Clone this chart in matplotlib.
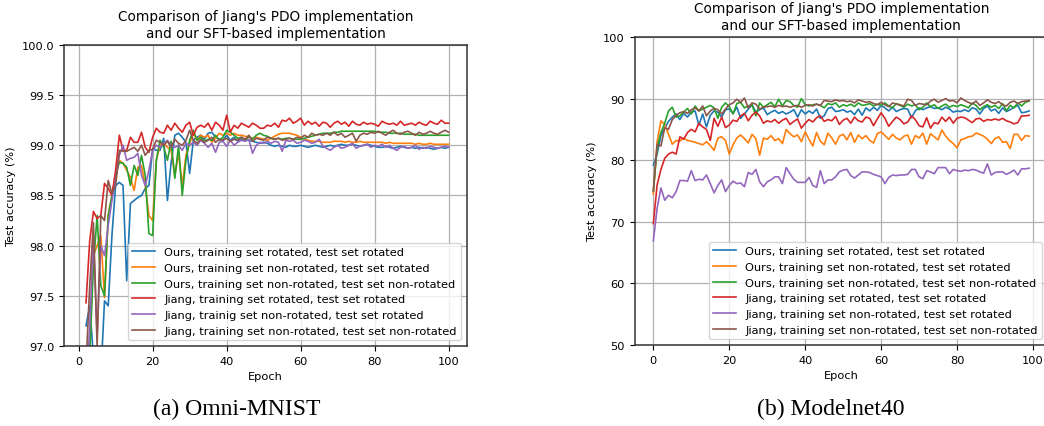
import matplotlib

matplotlib.use("Agg")
import matplotlib.pyplot as plt
import numpy as np

# Omni-MNIST, epochs 2..100
mnist_epochs = np.arange(2, 101)

mnist_ours_rot_rot = [
    97.20, 97.40, 96.90, 96.80, 96.70, 97.45, 97.40, 98.10, 98.60, 98.63,
    98.60, 97.65, 98.42, 98.45, 98.48, 98.50, 98.57, 98.60, 98.97, 98.95,
    98.95, 99.07, 98.45, 98.83, 99.10, 99.12, 99.08, 99.03, 98.72, 99.05,
    99.08, 99.10, 99.06, 99.12, 99.13, 99.08, 99.06, 99.05, 99.10, 99.05,
    99.08, 99.04, 99.06, 99.05, 99.05, 99.04, 99.03, 99.02, 99.03, 99.02,
    99.00, 98.99, 99.00, 98.99, 98.98, 99.00, 98.99, 98.99, 99.00, 98.99,
    98.98, 98.99, 99.00, 98.99, 98.98, 98.99, 99.00, 98.99, 99.00, 99.01,
    99.00, 99.00, 99.01, 99.00, 98.99, 99.00, 99.01, 99.00, 98.99, 98.98,
    98.98, 98.99, 98.98, 98.97, 98.98, 98.99, 98.98, 98.97, 98.98, 98.97,
    98.98, 98.97, 98.98, 98.97, 98.96, 98.97, 98.98, 98.97, 98.98,
]
mnist_ours_nonrot_rot = [
    96.50, 97.00, 97.90, 98.00, 98.10, 97.48, 98.30, 98.50, 98.70, 98.85,
    98.82, 98.75, 98.68, 98.55, 98.78, 98.80, 98.60, 98.30, 98.25, 98.85,
    99.00, 99.02, 98.98, 98.95, 98.70, 98.92, 98.60, 98.90, 99.02, 99.12,
    99.05, 99.10, 99.08, 99.10, 99.03, 99.07, 99.12, 99.10, 99.12, 99.10,
    99.12, 99.10, 99.10, 99.09, 99.08, 99.07, 99.08, 99.07, 99.06, 99.05,
    99.07, 99.09, 99.11, 99.12, 99.12, 99.12, 99.11, 99.10, 99.08, 99.06,
    99.05, 99.04, 99.04, 99.04, 99.03, 99.03, 99.03, 99.04, 99.04, 99.04,
    99.03, 99.04, 99.03, 99.03, 99.04, 99.03, 99.03, 99.03, 99.03, 99.03,
    99.03, 99.02, 99.03, 99.02, 99.02, 99.02, 99.02, 99.02, 99.02, 99.01,
    99.02, 99.01, 99.01, 99.02, 99.01, 99.01, 99.01, 99.01, 99.01,
]
mnist_ours_nonrot_nonrot = [
    96.50, 96.90, 97.80, 98.30, 97.60, 97.50, 98.30, 98.50, 98.70, 98.83,
    98.82, 98.78, 98.60, 98.80, 98.70, 98.90, 98.70, 98.12, 98.10, 98.85,
    99.05, 98.98, 98.85, 99.04, 98.67, 99.00, 98.50, 98.85, 99.05, 99.15,
    99.05, 99.08, 99.04, 99.06, 99.05, 99.10, 99.05, 99.08, 99.15, 99.13,
    99.10, 99.07, 99.08, 99.05, 99.09, 99.06, 99.10, 99.12, 99.10, 99.09,
    99.07, 99.06, 99.07, 99.06, 99.07, 99.07, 99.06, 99.06, 99.06, 99.07,
    99.08, 99.09, 99.10, 99.11, 99.12, 99.12, 99.12, 99.13, 99.13, 99.14,
    99.14, 99.14, 99.14, 99.14, 99.14, 99.14, 99.14, 99.14, 99.14, 99.13,
    99.13, 99.13, 99.12, 99.12, 99.12, 99.12, 99.11, 99.11, 99.11, 99.11,
    99.10, 99.10, 99.10, 99.10, 99.10, 99.10, 99.10, 99.10, 99.10,
]
mnist_jiang_rot_rot = [
    97.43, 98.05, 98.34, 98.27, 98.30, 98.62, 98.57, 98.50, 98.75, 99.10,
    98.95, 98.95, 99.08, 99.03, 99.03, 99.13, 98.98, 98.93, 99.08, 99.17,
    99.13, 99.12, 99.20, 99.15, 99.22, 99.17, 99.13, 99.20, 99.23, 99.10,
    99.18, 99.20, 99.18, 99.22, 99.15, 99.23, 99.20, 99.15, 99.30, 99.13,
    99.20, 99.17, 99.22, 99.20, 99.18, 99.22, 99.20, 99.17, 99.17, 99.20,
    99.19, 99.22, 99.18, 99.25, 99.24, 99.27, 99.22, 99.24, 99.27, 99.20,
    99.24, 99.21, 99.23, 99.19, 99.23, 99.22, 99.18, 99.22, 99.24, 99.21,
    99.23, 99.19, 99.24, 99.21, 99.20, 99.23, 99.21, 99.22, 99.21, 99.19,
    99.24, 99.22, 99.21, 99.22, 99.20, 99.24, 99.20, 99.21, 99.22, 99.20,
    99.23, 99.21, 99.20, 99.24, 99.22, 99.21, 99.25, 99.22, 99.22,
]
mnist_jiang_nonrot_rot = [
    96.50, 97.20, 98.10, 97.10, 98.00, 97.90, 98.20, 98.45, 98.65, 98.90,
    99.00, 98.85, 98.87, 98.88, 98.92, 98.70, 98.60, 98.75, 98.95, 99.00,
    98.98, 99.02, 99.05, 99.00, 98.98, 99.00, 98.95, 99.02, 99.00, 99.03,
    99.00, 99.05, 99.02, 98.98, 99.02, 98.93, 99.03, 99.04, 98.99, 99.05,
    99.00, 99.03, 99.05, 99.04, 99.06, 98.92, 99.00, 99.03, 99.02, 99.04,
    99.02, 99.04, 99.03, 98.94, 99.05, 99.04, 99.05, 99.02, 99.03, 99.05,
    99.04, 99.02, 99.03, 99.06, 98.99, 98.97, 98.95, 98.98, 99.00, 98.97,
    98.98, 99.00, 99.02, 98.97, 98.99, 99.00, 99.01, 98.98, 99.00, 98.99,
    99.01, 98.98, 99.00, 98.97, 98.95, 98.98, 98.99, 98.97, 98.98, 99.00,
    98.96, 98.98, 98.97, 98.99, 98.98, 98.97, 98.98, 98.99, 98.98,
]
mnist_jiang_nonrot_nonrot = [
    96.80, 97.60, 98.23, 97.00, 98.30, 98.25, 98.65, 98.52, 98.60, 98.95,
    98.94, 98.94, 98.96, 98.98, 98.94, 99.00, 98.90, 98.95, 98.96, 99.05,
    99.03, 99.00, 99.04, 98.98, 99.06, 99.02, 99.00, 99.05, 99.15, 99.05,
    99.02, 99.06, 99.03, 99.05, 99.08, 99.03, 99.06, 99.05, 99.07, 99.04,
    99.06, 99.05, 99.08, 99.06, 99.10, 99.04, 99.07, 99.06, 99.05, 99.08,
    99.07, 99.06, 99.07, 99.05, 99.06, 99.07, 99.06, 99.08, 99.07, 99.10,
    99.08, 99.12, 99.10, 99.11, 99.10, 99.12, 99.10, 99.13, 99.10, 99.12,
    99.08, 99.10, 99.12, 99.04, 99.10, 99.12, 99.11, 99.13, 99.12, 99.14,
    99.12, 99.10, 99.13, 99.15, 99.12, 99.11, 99.13, 99.14, 99.12, 99.10,
    99.13, 99.11, 99.12, 99.14, 99.12, 99.11, 99.13, 99.15, 99.13,
]

# Modelnet40, epochs 0..99
mn40_epochs = np.arange(0, 100)

mn40_ours_rot_rot = [
    79.2, 81.0, 84.0, 85.2, 86.3, 87.0, 87.5, 86.6, 87.6, 87.0,
    87.8, 88.0, 85.7, 87.5, 85.4, 87.3, 88.0, 87.8, 87.0, 88.2,
    88.3, 87.6, 88.6, 86.8, 87.5, 88.3, 89.0, 87.8, 88.2, 88.5,
    87.4, 87.8, 88.1, 87.6, 87.9, 87.5, 87.8, 88.2, 87.0, 88.2,
    87.5, 88.0, 87.6, 88.3, 86.8, 87.2, 88.4, 88.6, 87.9, 88.0,
    88.2, 87.8, 88.0, 87.4, 88.3, 87.3, 88.5, 88.0, 88.6, 88.1,
    88.9, 88.5, 88.0, 88.6, 87.9, 88.2, 88.4, 88.3, 86.9, 88.0,
    88.5, 88.2, 88.5, 88.7, 88.4, 88.5, 88.2, 88.6, 88.3, 87.8,
    88.0, 87.9, 88.2, 87.9, 88.5, 88.3, 87.5, 88.4, 88.8, 88.0,
    88.3, 87.6, 88.5, 87.9, 88.2, 88.6, 88.9, 87.7, 87.8, 88.0,
]
mn40_ours_nonrot_rot = [
    74.5, 83.0, 86.4, 85.8, 84.2, 82.6, 83.2, 83.1, 83.6, 83.2,
    83.1, 82.9, 82.7, 82.5, 83.0, 82.4, 81.6, 83.6, 83.8, 83.2,
    81.0, 82.5, 83.6, 84.1, 83.5, 82.8, 84.2, 83.5, 80.8, 83.6,
    83.4, 84.0, 83.2, 83.5, 82.7, 85.0, 84.3, 83.8, 84.1, 83.0,
    84.6, 83.4, 82.3, 84.5, 83.1, 82.5, 84.4, 83.6, 82.6, 83.9,
    84.2, 83.3, 84.5, 82.9, 84.1, 83.5, 84.0, 83.2, 82.8, 84.3,
    84.6, 84.0, 83.4, 84.2, 83.6, 83.3, 83.9, 84.1, 82.6, 84.0,
    83.6, 84.4, 82.6, 84.3, 83.8, 83.3, 84.9, 83.9, 83.2, 82.7,
    82.0, 83.3, 83.5, 83.8, 83.9, 84.4, 84.2, 83.9, 83.4, 82.7,
    83.5, 83.8, 82.9, 83.0, 81.9, 84.2, 84.2, 83.2, 84.0, 83.9,
]
mn40_ours_nonrot_nonrot = [
    75.0, 82.0, 84.5, 86.0, 88.0, 88.6, 87.0, 87.2, 87.8, 88.4,
    87.5, 88.8, 88.0, 88.3, 88.6, 88.9, 88.5, 86.8, 88.6, 89.3,
    88.7, 87.5, 89.2, 89.4, 88.5, 88.8, 89.0, 87.2, 89.3, 88.6,
    89.0, 89.4, 88.7, 89.9, 88.8, 89.7, 89.5, 88.9, 88.6, 90.0,
    89.0, 88.8, 89.0, 89.1, 88.9, 88.5, 89.2, 89.0, 89.3, 88.6,
    89.0, 88.8, 89.1, 88.7, 89.3, 88.9, 89.0, 89.2, 88.8, 89.1,
    88.9, 89.3, 88.8, 88.5, 89.2, 88.9, 88.6, 89.1, 88.8, 89.0,
    88.2, 88.6, 89.3, 88.7, 89.0, 88.4, 88.8, 89.1, 88.6, 88.9,
    88.7, 89.0, 88.8, 88.5, 89.3, 88.9, 88.2, 88.7, 89.0, 88.6,
    88.9, 88.4, 89.2, 88.0, 88.9, 88.5, 89.3, 88.8, 89.4, 89.6,
]
mn40_jiang_rot_rot = [
    69.7, 76.0, 78.5, 80.3, 81.0, 81.3, 81.0, 83.8, 83.4, 84.5,
    85.0, 84.6, 86.0, 85.4, 85.0, 83.2, 86.8, 85.5, 87.0, 85.3,
    85.7, 86.5, 86.3, 87.2, 87.6, 86.4, 87.3, 87.8, 87.2, 86.0,
    86.4, 86.2, 86.6, 86.0, 86.5, 86.8, 85.8, 86.3, 86.7, 85.2,
    86.0, 86.6, 86.2, 86.9, 87.2, 86.3, 86.6, 86.4, 87.1, 85.8,
    86.5, 86.8, 86.0, 87.0, 86.4, 86.2, 87.0, 86.8, 85.6, 86.7,
    87.7, 86.8, 85.5, 86.3, 87.0, 86.6, 85.9, 86.2, 87.2, 86.6,
    85.6, 85.4, 86.9, 85.2, 86.1, 85.9, 87.0, 86.3, 87.0, 86.0,
    86.8, 87.0, 86.9, 86.5, 86.1, 86.7, 86.8, 86.3, 86.6, 86.5,
    86.7, 86.5, 86.8, 86.4, 86.2, 85.9, 86.1, 87.2, 87.2, 87.3,
]
mn40_jiang_nonrot_rot = [
    66.9, 72.2, 75.5, 73.5, 74.3, 73.9, 74.9, 76.7, 76.7, 76.6,
    78.3, 76.7, 76.9, 76.8, 77.6, 76.2, 74.7, 75.9, 76.8, 74.9,
    75.9, 76.6, 76.2, 76.3, 75.7, 78.0, 77.7, 78.5, 76.5, 75.7,
    76.5, 76.8, 77.3, 77.3, 76.2, 78.8, 77.8, 76.9, 76.4, 76.4,
    76.4, 77.2, 75.9, 75.6, 78.3, 76.2, 76.8, 76.8, 77.3, 78.1,
    78.4, 78.5, 77.5, 77.1, 77.6, 78.1, 78.1, 78.0, 77.7, 77.5,
    77.3, 76.2, 77.2, 77.6, 77.5, 77.6, 77.6, 77.7, 78.5, 78.5,
    77.3, 77.0, 78.3, 78.1, 77.8, 78.8, 78.8, 78.8, 77.8, 78.5,
    78.3, 78.2, 78.4, 78.3, 78.5, 78.4, 78.1, 77.9, 79.4, 77.6,
    78.0, 78.1, 78.1, 77.7, 78.0, 78.4, 77.6, 78.6, 78.6, 78.7,
]
mn40_jiang_nonrot_nonrot = [
    75.0, 82.6, 82.3, 85.3, 85.0, 86.6, 87.3, 87.7, 87.9, 87.6,
    88.2, 88.5, 88.0, 88.8, 87.2, 88.0, 88.4, 88.2, 87.5, 88.3,
    89.0, 89.3, 89.9, 89.4, 90.1, 88.5, 89.3, 89.1, 88.3, 88.6,
    88.7, 88.8, 88.6, 88.9, 88.7, 88.8, 88.6, 88.8, 88.9, 88.6,
    88.9, 89.0, 88.8, 89.1, 88.9, 89.7, 89.6, 89.5, 89.8, 89.6,
    89.7, 89.5, 89.6, 89.3, 89.8, 89.6, 89.4, 89.5, 89.2, 89.0,
    89.4, 89.0, 88.7, 89.3, 89.1, 89.0, 88.8, 89.9, 89.7, 88.9,
    89.2, 89.1, 89.0, 89.6, 89.9, 89.4, 89.7, 90.0, 89.6, 89.7,
    89.3, 90.1, 89.7, 89.4, 89.1, 89.6, 88.9, 89.3, 89.8, 89.4,
    89.2, 89.5, 89.0, 88.8, 89.4, 89.6, 89.2, 89.5, 89.6, 89.7,
]

mnist_labels = [
    "Ours, training set rotated, test set rotated",
    "Ours, training set non-rotated, test set rotated",
    "Ours, training set non-rotated, test set non-rotated",
    "Jiang, training set rotated, test set rotated",
    "Jiang, trainig set non-rotated, test set rotated",
    "Jiang, training set non-rotated, test set non-rotated",
]
mn40_labels = [
    "Ours, training set rotated, test set rotated",
    "Ours, training set non-rotated, test set rotated",
    "Ours, training set non-rotated, test set non-rotated",
    "Jiang, training set rotated, test set rotated",
    "Jiang, training set non-rotated, test set rotated",
    "Jiang, training set non-rotated, test set non-rotated",
]

title = "Comparison of Jiang's PDO implementation\nand our SFT-based implementation"
fs = 8.2


def setup(ax):
    ax.grid(True, color="#b0b0b0", linewidth=0.9)
    ax.set_axisbelow(True)
    ax.set_title(title, fontsize=9.8)
    ax.set_xlabel("Epoch", fontsize=fs)
    ax.set_ylabel("Test accuracy (%)", fontsize=fs)
    ax.tick_params(labelsize=fs)
    for sp in ax.spines.values():
        sp.set_color("#333333")
        sp.set_linewidth(1.1)


fig = plt.figure(figsize=(10.44, 4.27), dpi=100)

ax1 = fig.add_axes([0.0613, 0.1874, 0.386, 0.705])
series1 = [mnist_ours_rot_rot, mnist_ours_nonrot_rot, mnist_ours_nonrot_nonrot,
           mnist_jiang_rot_rot, mnist_jiang_nonrot_rot, mnist_jiang_nonrot_nonrot]
for vals, lab in zip(series1, mnist_labels):
    ax1.plot(mnist_epochs, vals, linewidth=1.2, label=lab)
ax1.set_xlim(-3.95, 104.95)
ax1.set_ylim(97.0, 100.0)
ax1.set_yticks(np.arange(97.0, 100.01, 0.5))
ax1.yaxis.set_major_formatter(matplotlib.ticker.FormatStrFormatter("%.1f"))
setup(ax1)
ax1.legend(loc="lower right", fontsize=fs)

ax2 = fig.add_axes([0.6078, 0.1897, 0.396, 0.7213])
series2 = [mn40_ours_rot_rot, mn40_ours_nonrot_rot, mn40_ours_nonrot_nonrot,
           mn40_jiang_rot_rot, mn40_jiang_nonrot_rot, mn40_jiang_nonrot_nonrot]
for vals, lab in zip(series2, mn40_labels):
    ax2.plot(mn40_epochs, vals, linewidth=1.2, label=lab)
ax2.set_ylim(50, 100)
setup(ax2)
ax2.legend(loc="lower right", fontsize=fs)

fig.text(237 / 1044, 1 - 409 / 427, "(a) Omni-MNIST", family="Liberation Serif",
         fontsize=17, ha="center", va="center")
fig.text(831 / 1044, 1 - 409 / 427, "(b) Modelnet40", family="Liberation Serif",
         fontsize=17, ha="center", va="center")

fig.savefig("out.png", dpi=100)
